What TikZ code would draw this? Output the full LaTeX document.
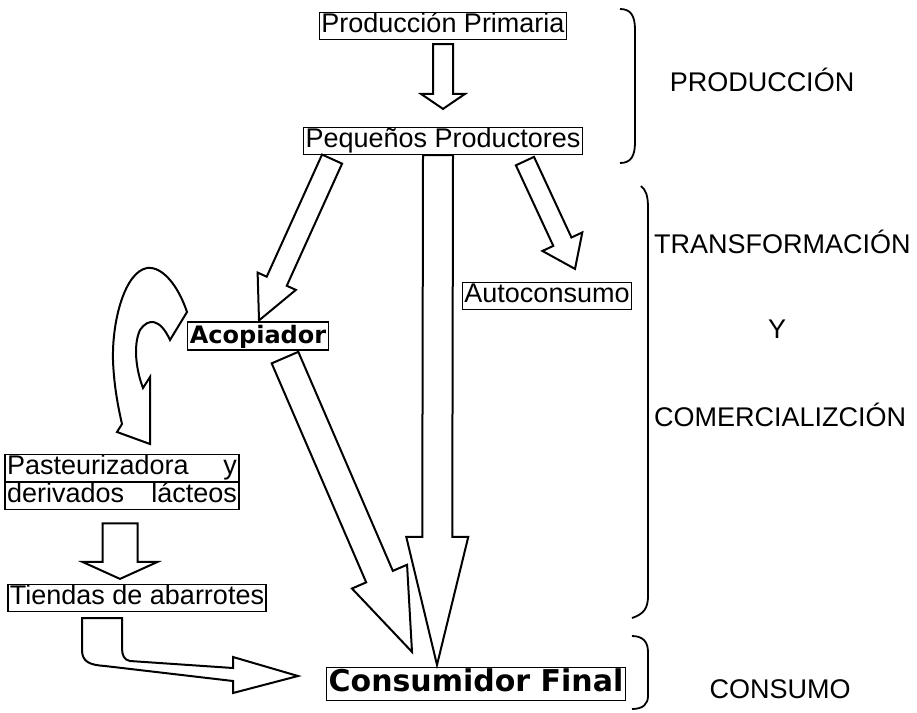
\documentclass[tikz,border=0pt]{standalone}
\usepackage{fontspec}
\setmainfont{Liberation Sans}
\newfontfamily\vera{DejaVu Sans}
\usepackage{tikz}
\usetikzlibrary{calc}
\tikzset{caja/.style = {draw, line width = 1.2pt, inner xsep = 2pt, inner ysep = 1pt,
    text height = 19pt, text depth = 6pt, font = \fontsize{27}{30}\selectfont},
  negrita/.style = {font = \vera\bfseries\fontsize{24}{26}\selectfont, text height = 20pt},
  bloque/.style = {draw, line width = 2pt, line join = miter, fill = white},
  llave/.style = {line width = 1.8pt},
  etiqueta/.style = {inner sep = 0, font = \fontsize{27}{30}\selectfont}}
% tail, tip, half shaft, half head, head length
\newcommand{\flecha}[5]{%
  \path (#2) coordinate (fp) ($(#2)!#5!(#1)$) coordinate (fh);
  \draw [bloque] ($(#1)!#3!-90:(fp)$) -- ($(fh)!#3!-90:(fp)$) -- ($(fh)!#4!-90:(fp)$)
    -- (fp) -- ($(fh)!#4!90:(fp)$) -- ($(fh)!#3!90:(fp)$) -- ($(#1)!#3!90:(fp)$) -- cycle;}

\begin{document}
\begin{tikzpicture}[x = 1pt, y = -1pt]
    \useasboundingbox (0, 0) rectangle (917, 712);

    \node [caja] (prim) at (443, 26) {Producción Primaria};
    \node [caja] (peq) at (443, 141) {Pequeños Productores};
    \node [caja, negrita] (acop) at (258, 336) {Acopiador};
    \node [caja] (auto) at (547, 296) {Autoconsumo};
    \node [caja] (pastA) at (122, 468) {\makebox[230pt]{Pasteurizadora\hfill y}};
    \node [caja, anchor = north] (pastB) at (pastA.south) {\makebox[230pt]{derivados\hfill lácteos}};
    \node [caja] (tiendas) at (137, 598) {Tiendas de abarrotes};
    \node [caja, negrita, font = \vera\bfseries\fontsize{30}{32}\selectfont,
      text height = 23pt, text depth = 8pt] (cons) at (476, 684) {Consumidor Final};

    \coordinate (c1) at ([yshift = -4pt]prim.south);
    \coordinate (p1) at ([yshift = 18pt]peq.north);
    \flecha{c1}{p1}{10pt}{22pt}{15pt}

    \coordinate (c2) at ([xshift = 29pt, yshift = -4pt]peq.south west);
    \coordinate (p2) at ([xshift = 1pt, yshift = 1pt]acop.north);
    \flecha{c2}{p2}{11pt}{21pt}{43pt}

    \coordinate (c4) at ([xshift = -58pt, yshift = -6pt]peq.south east);
    \coordinate (p4) at ([xshift = 28pt, yshift = 13pt]auto.north);
    \flecha{c4}{p4}{10pt}{22pt}{30pt}

    \coordinate (c5) at ([xshift = 27pt, yshift = -7pt]acop.south);
    \coordinate (p5) at ([xshift = -64pt, yshift = 15pt]cons.north);
    \flecha{c5}{p5}{14.5pt}{30pt}{82pt}

    \coordinate (c3) at ([xshift = -5pt]peq.south);
    \coordinate (p3) at ([xshift = -39pt, yshift = 2pt]cons.north);
    \flecha{c3}{p3}{15pt}{31pt}{128pt}

    \coordinate (c6) at ([xshift = -2pt, yshift = -13pt]pastB.south);
    \coordinate (p6) at ([xshift = -17pt, yshift = 5pt]tiendas.north);
    \flecha{c6}{p6}{17.5pt}{37.5pt}{17pt}

    % curved arrows
    \draw [bloque] (187, 312) .. controls (178, 285) and (162, 266) .. (147, 268)
      .. controls (125, 272) and (112, 320) .. (113, 360)
      .. controls (114, 390) and (120, 415) .. (122, 424) -- (117, 432) -- (150, 444)
      -- (150, 377) -- (143, 388) .. controls (136, 370) and (133, 345) .. (140, 330)
      .. controls (148, 318) and (160, 318) .. (170, 340) -- cycle;
    \draw [bloque] (82, 618) -- (82, 650) .. controls (82, 662) and (90, 665) .. (105, 666)
      -- (233, 681) -- (233, 693) -- (298, 676) -- (233, 657) -- (233, 668) -- (130, 661)
      .. controls (124, 660) and (122, 655) .. (122, 648) -- (122, 618) -- cycle;

    % braces
    \draw [llave] (620, 9) .. controls (631, 9) and (635, 16) .. (635, 30) -- (635, 142)
      .. controls (635, 156) and (631, 163) .. (620, 163);
    \draw [llave] (641, 186) .. controls (646, 190) and (648, 196) .. (648, 208) -- (648, 596)
      .. controls (648, 608) and (644, 614) .. (632, 618);
    \draw [llave] (632, 636) .. controls (643, 636) and (648, 642) .. (648, 652) -- (648, 696)
      .. controls (648, 704) and (643, 709) .. (632, 709);

    \node [etiqueta] (lprod) at (762, 80) {PRODUCCIÓN};
    \node [etiqueta, anchor = west] (ltrans) at (654, 242) {TRANSFORMACIÓN};
    \node [etiqueta] (ly) at (777, 329) {Y};
    \node [etiqueta, anchor = west] (lcom) at (654, 415) {COMERCIALIZCIÓN};
    \node [etiqueta] (lcons) at (780, 689) {CONSUMO};
  \end{tikzpicture}
\end{document}
